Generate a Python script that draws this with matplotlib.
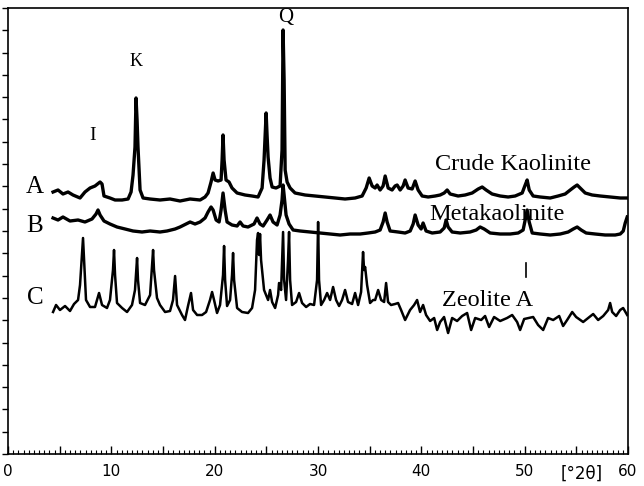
import numpy as np
import matplotlib
matplotlib.use("Agg")
import matplotlib.pyplot as plt

# XRD patterns, 2theta in degrees, intensity in arbitrary units (offset traces)
a_2theta = [4.36, 4.84, 5.32, 5.81, 6.29, 6.97, 7.45, 7.94, 8.42, 8.91,
            9.10, 9.29, 9.87, 10.36, 11.04, 11.62, 11.91, 12.10, 12.29, 12.39,
            12.49, 12.58, 12.78, 13.07, 13.75, 14.71, 15.68, 16.65, 17.62, 18.59,
            19.07, 19.36, 19.65, 19.85, 20.04, 20.33, 20.62, 20.72, 20.81, 20.91,
            21.10, 21.39, 21.68, 22.17, 22.94, 23.62, 24.20, 24.59, 24.78, 24.98,
            25.07, 25.17, 25.36, 25.56, 25.94, 26.33, 26.52, 26.62, 26.72, 26.82,
            27.01, 27.30, 27.78, 28.75, 29.72, 30.69, 31.66, 32.62, 33.59, 34.27,
            34.66, 34.95, 35.24, 35.53, 35.72, 36.01, 36.30, 36.50, 36.79, 37.17,
            37.46, 37.66, 37.95, 38.24, 38.43, 38.72, 39.11, 39.40, 39.69, 40.08,
            40.66, 41.34, 41.82, 42.21, 42.50, 42.79, 43.56, 44.24, 44.92, 45.50,
            45.89, 46.27, 46.85, 47.63, 48.40, 49.08, 49.76, 50.05, 50.24, 50.44,
            50.82, 51.50, 52.47, 53.24, 53.92, 54.41, 54.79, 55.08, 55.37, 55.86,
            56.53, 57.31, 58.28, 59.25, 59.92]
a_int = [262, 264, 260, 262, 259, 256, 262, 266, 268, 272,
         270, 258, 256, 254, 254, 255, 262, 279, 307, 356,
         334, 307, 264, 256, 255, 254, 255, 253, 255, 254,
         257, 261, 272, 281, 274, 273, 274, 294, 319, 294,
         274, 272, 266, 261, 259, 258, 257, 266, 294, 341,
         319, 297, 276, 267, 266, 268, 304, 424, 374, 284,
         272, 266, 261, 259, 258, 257, 256, 255, 256, 258,
         266, 276, 268, 266, 269, 264, 268, 278, 266, 264,
         268, 269, 264, 268, 274, 266, 265, 273, 264, 258,
         257, 258, 259, 261, 264, 260, 258, 259, 261, 265,
         267, 264, 260, 258, 257, 258, 261, 269, 274, 264,
         258, 257, 256, 258, 260, 264, 267, 269, 266, 261,
         259, 258, 257, 256, 256]

b_2theta = [4.36, 4.84, 5.32, 6.00, 6.78, 7.45, 8.13, 8.52, 8.71, 8.91,
            9.29, 9.87, 10.55, 11.33, 12.10, 12.97, 13.75, 14.71, 15.39, 16.17,
            16.65, 17.23, 17.62, 18.10, 18.59, 19.07, 19.36, 19.65, 19.85, 20.14,
            20.43, 20.62, 20.81, 21.01, 21.20, 21.68, 22.17, 22.46, 22.75, 23.23,
            23.81, 24.10, 24.39, 24.69, 25.07, 25.36, 25.65, 26.04, 26.33, 26.52,
            26.62, 26.72, 26.91, 27.20, 27.59, 28.27, 29.24, 30.20, 31.17, 32.14,
            33.11, 34.08, 34.85, 35.53, 36.01, 36.30, 36.50, 36.69, 36.98, 37.75,
            38.43, 38.92, 39.21, 39.40, 39.69, 39.98, 40.17, 40.46, 41.05, 41.82,
            42.21, 42.40, 42.59, 42.98, 43.76, 44.72, 45.31, 45.69, 46.08, 46.66,
            47.63, 48.60, 49.37, 49.85, 50.05, 50.24, 50.44, 50.73, 51.50, 52.47,
            53.44, 54.21, 54.70, 55.08, 55.47, 55.95, 56.82, 57.79, 58.76, 59.25,
            59.54, 59.73, 59.92]
b_int = [236, 234, 237, 233, 234, 232, 235, 240, 244, 239,
         233, 230, 227, 225, 223, 222, 223, 222, 223, 225,
         227, 230, 232, 230, 232, 236, 242, 247, 244, 234,
         232, 244, 261, 244, 232, 229, 228, 232, 228, 227,
         230, 236, 230, 228, 234, 239, 232, 229, 239, 254,
         269, 259, 239, 230, 224, 223, 222, 221, 220, 219,
         220, 220, 221, 222, 224, 232, 241, 232, 223, 222,
         221, 223, 230, 239, 229, 225, 231, 223, 221, 222,
         226, 234, 227, 222, 221, 222, 224, 227, 225, 221,
         220, 220, 221, 224, 234, 244, 232, 221, 220, 219,
         220, 222, 225, 227, 224, 221, 220, 219, 219, 220,
         223, 231, 237]

c_2theta = [4.36, 4.65, 5.03, 5.52, 6.00, 6.39, 6.78, 6.97, 7.16, 7.26,
            7.36, 7.55, 7.94, 8.42, 8.81, 9.10, 9.58, 9.87, 10.16, 10.26,
            10.36, 10.55, 11.04, 11.52, 12.00, 12.29, 12.49, 12.58, 12.78, 13.26,
            13.75, 13.94, 14.04, 14.13, 14.42, 14.71, 15.20, 15.68, 15.97, 16.17,
            16.36, 16.84, 17.13, 17.42, 17.71, 17.91, 18.30, 18.78, 19.17, 19.55,
            19.75, 19.94, 20.23, 20.52, 20.81, 20.91, 21.01, 21.20, 21.49, 21.68,
            21.78, 21.88, 22.17, 22.65, 23.23, 23.62, 23.91, 24.10, 24.20, 24.30,
            24.39, 24.49, 24.78, 25.17, 25.36, 25.56, 25.85, 26.14, 26.23, 26.43,
            26.62, 26.72, 26.91, 27.10, 27.20, 27.30, 27.49, 27.88, 28.17, 28.46,
            28.85, 29.23, 29.62, 29.91, 30.01, 30.10, 30.30, 30.59, 30.88, 31.17,
            31.46, 31.75, 32.04, 32.33, 32.62, 32.91, 33.30, 33.59, 33.88, 34.17,
            34.36, 34.46, 34.56, 34.75, 35.04, 35.33, 35.53, 35.82, 36.11, 36.40,
            36.59, 36.78, 37.07, 37.46, 37.75, 38.04, 38.43, 38.91, 39.30, 39.59,
            39.88, 40.17, 40.46, 40.85, 41.24, 41.53, 41.82, 42.20, 42.59, 42.98,
            43.46, 43.95, 44.43, 44.82, 45.21, 45.79, 46.17, 46.56, 47.04, 47.63,
            48.30, 48.79, 49.27, 49.56, 49.95, 50.82, 51.30, 51.79, 52.27, 52.76,
            53.34, 53.72, 54.11, 54.60, 54.98, 55.66, 56.14, 56.63, 57.11, 57.60,
            58.08, 58.27, 58.47, 58.85, 59.24, 59.53, 59.92]
c_int = [142, 149, 144, 148, 143, 150, 154, 169, 199, 216,
         194, 154, 147, 147, 161, 149, 146, 154, 184, 204,
         179, 151, 146, 142, 149, 164, 196, 174, 151, 149,
         159, 189, 204, 184, 156, 149, 142, 143, 154, 178,
         149, 139, 134, 148, 161, 144, 139, 139, 142, 154,
         162, 154, 141, 149, 179, 208, 174, 148, 154, 179,
         201, 174, 146, 142, 141, 146, 164, 214, 221, 199,
         220, 194, 164, 154, 164, 152, 146, 159, 171, 164,
         222, 174, 154, 194, 222, 174, 149, 152, 161, 151,
         147, 150, 149, 174, 232, 174, 149, 154, 161, 154,
         167, 154, 148, 154, 164, 152, 150, 161, 149, 162,
         202, 184, 187, 169, 151, 154, 154, 164, 154, 152,
         171, 152, 149, 150, 151, 144, 134, 144, 149, 154,
         142, 149, 139, 133, 136, 124, 132, 137, 121, 136,
         133, 138, 141, 124, 136, 134, 138, 127, 137, 133,
         136, 139, 132, 124, 135, 137, 129, 124, 136, 134,
         138, 128, 134, 142, 137, 132, 136, 140, 134, 138,
         144, 151, 142, 138, 144, 146, 139]

trace_letters = ["A", "B", "C"]
letter_pos = [(2.6, 267), (2.6, 228), (2.6, 156)]
sample_names = ["Crude Kaolinite", "Metakaolinite", "Zeolite A"]
name_pos = [(48.9, 290), (47.3, 239), (46.4, 154)]
phase_marks = ["I", "K", "Q"]
phase_pos = [(8.2, 319), (12.4, 392), (26.9, 436)]

tick_vals = [0, 5, 10, 15, 20, 25, 30, 35, 40, 45, 50, 55, 60]
tick_text = ["0", "", "10", "", "20", "", "30", "", "40", "", "50", "", "60"]

fig = plt.figure(figsize=(6.44, 4.86), dpi=100)
ax = fig.add_axes([8 / 644, 32 / 486, 620 / 644, 446 / 486])

ax.plot(a_2theta, a_int, color="black", lw=2.4)
ax.plot(b_2theta, b_int, color="black", lw=2.4)
ax.plot(c_2theta, c_int, color="black", lw=1.8)

# small reference mark under the 50 deg line
ax.plot([50.1, 50.1], [177, 191], color="black", lw=1.2)

serif = "Liberation Serif"
for t, (x, y) in zip(trace_letters, letter_pos):
    ax.text(x, y, t, family=serif, fontsize=18, ha="center", va="center")
for t, (x, y) in zip(sample_names, name_pos):
    ax.text(x, y, t, family=serif, fontsize=17.5, ha="center", va="center")
for t, (x, y), fs in zip(phase_marks, phase_pos, [14, 13, 15]):
    ax.text(x, y, t, family=serif, fontsize=fs, ha="center", va="center")

ax.set_xlim(0, 60)
ax.set_ylim(0, 446)
ax.set_xticks(tick_vals)
ax.set_xticklabels(tick_text, fontsize=11)
ax.set_xticks(np.arange(0, 60.01, 0.5), minor=True)
ax.tick_params(axis="x", which="major", direction="in", length=6, width=1, pad=7)
ax.tick_params(axis="x", which="minor", direction="in", length=3, width=0.8)
ax.set_yticks(np.linspace(0, 446, 21))
ax.set_yticklabels([])
ax.tick_params(axis="y", direction="out", length=4, width=1)
for s in ax.spines.values():
    s.set_linewidth(1.2)

ax.annotate("[°2θ]", xy=(55.5, -0.045), xycoords=("data", "axes fraction"),
            ha="center", va="center", fontsize=12)

fig.savefig("out.png", dpi=100)
